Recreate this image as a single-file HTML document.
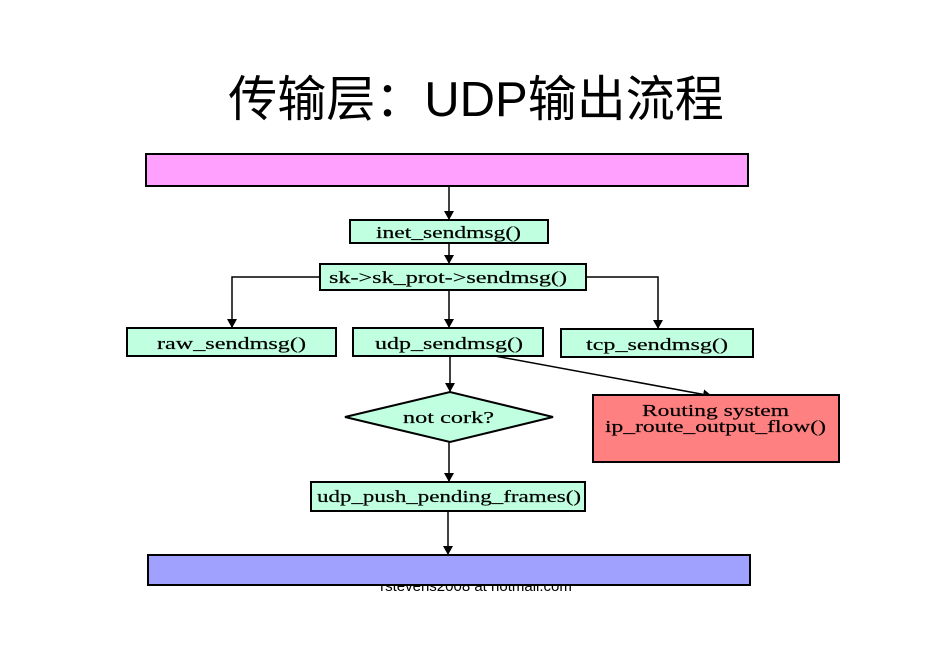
<!DOCTYPE html>
<html><head><meta charset="utf-8"><style>
body{margin:0;width:952px;height:646px;background:#fff;overflow:hidden;position:relative}
</style></head><body>
<div style="position:absolute;left:0;width:952px;top:60px;text-align:center;font:49px 'Liberation Sans','Noto Sans CJK SC',sans-serif;color:#000">传输层：UDP输出流程</div>
<div style="position:absolute;left:0;width:952px;top:578px;text-align:center;font:15px 'Liberation Sans',sans-serif;color:#000">rstevens2008 at hotmail.com</div>
<svg width="952" height="646" style="position:absolute;left:0;top:0" font-family="Liberation Serif,serif" font-size="17">
<defs>
<marker id="b" markerWidth="10" markerHeight="10" refX="9" refY="5" orient="auto" markerUnits="userSpaceOnUse"><path d="M0,0 L9,5 L0,10z" fill="#000"/></marker></defs>
<g stroke="#000" stroke-width="1.5" fill="none">
<line x1="449" y1="186" x2="449" y2="220" marker-end="url(#b)"/>
<line x1="449" y1="243" x2="449" y2="264" marker-end="url(#b)"/>
<polyline points="320,277 232,277 232,328" marker-end="url(#b)"/>
<polyline points="586,277 658,277 658,329" marker-end="url(#b)"/>
<line x1="449" y1="290" x2="449" y2="328" marker-end="url(#b)"/>
<line x1="450" y1="356" x2="450" y2="392" marker-end="url(#b)"/>
<line x1="495" y1="356" x2="712" y2="396" marker-end="url(#b)"/>
<line x1="449" y1="442" x2="449" y2="482" marker-end="url(#b)"/>
<line x1="448" y1="511" x2="448" y2="555" marker-end="url(#b)"/>
</g>
<g stroke="#000" stroke-width="2">
<rect x="146" y="154" width="602" height="32" fill="#ffa0ff"/>
<rect x="350" y="220" width="198" height="23" fill="#c0ffe0"/>
<rect x="320" y="264" width="266" height="26" fill="#c0ffe0"/>
<rect x="127" y="328" width="209" height="28" fill="#c0ffe0"/>
<rect x="353" y="328" width="190" height="28" fill="#c0ffe0"/>
<rect x="561" y="329" width="192" height="28" fill="#c0ffe0"/>
<polygon points="345,417 450,392 553,417 450,442" fill="#c0ffe0"/>
<rect x="593" y="395" width="246" height="67" fill="#ff8080"/>
<rect x="311" y="482" width="274" height="29" fill="#c0ffe0"/>
<rect x="148" y="555" width="602" height="30" fill="#a0a0ff"/>
</g>
<g fill="#000" stroke="#000" stroke-width="0.2">
<text x="376" y="238" textLength="145" lengthAdjust="spacingAndGlyphs">inet_sendmsg()</text>
<text x="329" y="283" textLength="238" lengthAdjust="spacingAndGlyphs">sk-&gt;sk_prot-&gt;sendmsg()</text>
<text x="157" y="349" textLength="149" lengthAdjust="spacingAndGlyphs">raw_sendmsg()</text>
<text x="375" y="349" textLength="148" lengthAdjust="spacingAndGlyphs">udp_sendmsg()</text>
<text x="586" y="350" textLength="142" lengthAdjust="spacingAndGlyphs">tcp_sendmsg()</text>
<text x="403" y="423" textLength="91" lengthAdjust="spacingAndGlyphs">not cork?</text>
<text x="642" y="416" textLength="147" lengthAdjust="spacingAndGlyphs">Routing system</text>
<text x="605" y="432" textLength="221" lengthAdjust="spacingAndGlyphs">ip_route_output_flow()</text>
<text x="317" y="502" textLength="264" lengthAdjust="spacingAndGlyphs">udp_push_pending_frames()</text>
</g>
</svg>
</body></html>
